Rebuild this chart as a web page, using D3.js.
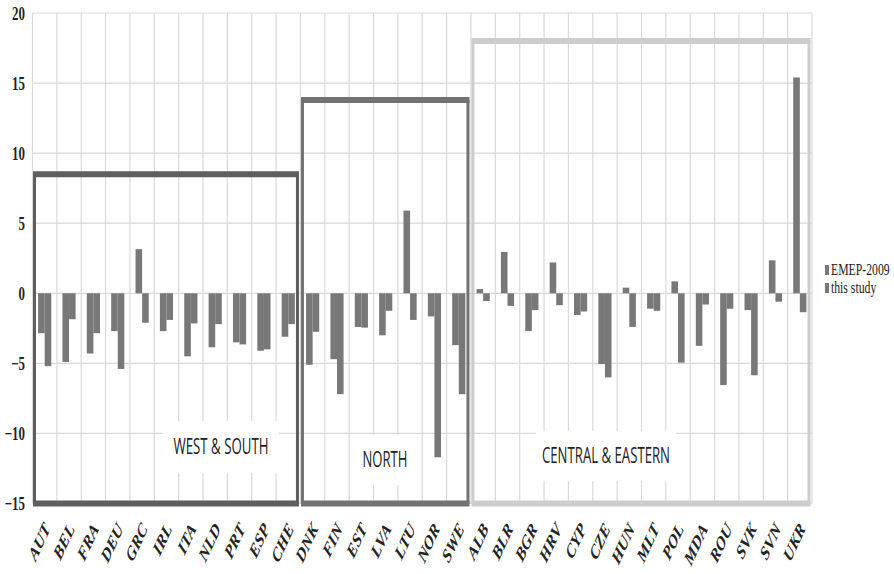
<!DOCTYPE html>
<html>
<head>
<meta charset="utf-8">
<script src="https://cdn.jsdelivr.net/npm/d3@7"></script>
<style>
  html, body { margin: 0; padding: 0; background: #fff; }
  svg { display: block; }
</style>
</head>
<body>
<svg id="chart" width="894" height="574"></svg>
<script>
// Countries in plotting order, grouped by region
const countries = ["AUT","BEL","FRA","DEU","GRC","IRL","ITA","NLD","PRT","ESP","CHE",
  "DNK","FIN","EST","LVA","LTU","NOR","SWE",
  "ALB","BLR","BGR","HRV","CYP","CZE","HUN","MLT","POL","MDA","ROU","SVK","SVN","UKR"];

// Series values
const emep2009 = [-2.85,-4.9,-4.3,-2.7,3.15,-2.7,-4.5,-3.85,-3.5,-4.1,-3.1,
  -5.1,-4.7,-2.4,-3.0,5.9,-1.65,-3.7,
  0.3,2.95,-2.7,2.2,-1.55,-5.05,0.4,-1.1,0.85,-3.75,-6.55,-1.2,2.35,15.4];
const thisStudy = [-5.2,-1.85,-2.85,-5.4,-2.1,-1.9,-2.15,-2.2,-3.65,-4.0,-2.2,
  -2.75,-7.2,-2.45,-1.25,-1.9,-11.7,-7.2,
  -0.55,-0.9,-1.2,-0.85,-1.3,-6.0,-2.4,-1.25,-4.95,-0.8,-1.1,-5.85,-0.6,-1.35];

const seriesNames = ["EMEP-2009", "this study"];

// Regional groupings: name, number of countries, height of the frame
const regionNames = ["WEST & SOUTH", "NORTH", "CENTRAL & EASTERN"];
const regionSizes = [11, 7, 14];
const regionTops = [8.5, 13.8, 18];

const yTicks = [-15, -10, -5, 0, 5, 10, 15, 20];

const svg = d3.select("#chart");
const plot = { left: 32.5, right: 812, top: 13, bottom: 503.5 };

const x = d3.scaleBand().domain(countries).range([plot.left, plot.right]).padding(0);
const x1 = d3.scaleBand().domain(seriesNames).range([0, x.bandwidth()])
  .paddingInner(0).paddingOuter(0.85);
const y = d3.scaleLinear().domain([-15, 20]).range([plot.bottom, plot.top]);

const barColor = "#787878";
const gridColor = "#d9d9d9";

// Gridlines
const grid = svg.append("g");
grid.selectAll("line.h").data(yTicks).join("line")
  .attr("x1", plot.left).attr("x2", plot.right)
  .attr("y1", d => y(d)).attr("y2", d => y(d))
  .attr("stroke", gridColor).attr("stroke-width", 1.2);
const bounds = countries.map(c => x(c)).concat([plot.right]);
grid.selectAll("line.v").data(bounds).join("line")
  .attr("x1", d => d).attr("x2", d => d)
  .attr("y1", plot.top).attr("y2", plot.bottom)
  .attr("stroke", gridColor).attr("stroke-width", 1.2);

// Region frames
let start = 0;
const regions = regionNames.map((name, i) => {
  const first = countries[start];
  const last = countries[start + regionSizes[i] - 1];
  start += regionSizes[i];
  return { name, x0: x(first), x1: x(last) + x.bandwidth(), top: regionTops[i] };
});
const frameColors = ["#5e5e5e", "#727272", "#cdcdcd"];
const frames = svg.append("g");

// White panels behind the region labels
const labelPanels = [
  { cx: 221, cy: 447, w: 116, h: 52, tw: 95, fs: 21 },
  { cx: 385, cy: 460, w: 58, h: 50, tw: 45, fs: 21 },
  { cx: 606, cy: 456, w: 140, h: 50, tw: 128, fs: 21 }
];
labelPanels.forEach(p => {
  frames.append("rect")
    .attr("x", p.cx - p.w / 2).attr("y", p.cy - p.h / 2)
    .attr("width", p.w).attr("height", p.h)
    .attr("fill", "#fff");
});

// Bars
const barData = [];
countries.forEach((c, i) => {
  barData.push({ c, s: seriesNames[0], v: emep2009[i] });
  barData.push({ c, s: seriesNames[1], v: thisStudy[i] });
});
svg.append("g").selectAll("rect").data(barData).join("rect")
  .attr("x", d => x(d.c) + x1(d.s))
  .attr("width", x1.bandwidth())
  .attr("y", d => y(Math.max(0, d.v)))
  .attr("height", d => Math.abs(y(d.v) - y(0)))
  .attr("fill", barColor);

regions.forEach((r, i) => {
  const l = r.x0 + 2, rr = r.x1 - 3;
  const col = frameColors[i];
  const g = frames.append("g");
  g.append("line").attr("x1", l).attr("x2", l).attr("y1", y(r.top)).attr("y2", y(-15))
    .attr("stroke", col).attr("stroke-width", 3);
  g.append("line").attr("x1", rr).attr("x2", rr).attr("y1", y(r.top)).attr("y2", y(-15))
    .attr("stroke", col).attr("stroke-width", 3);
  g.append("line").attr("x1", l - 1.5).attr("x2", rr + 1.5).attr("y1", y(r.top)).attr("y2", y(r.top))
    .attr("stroke", col).attr("stroke-width", 6);
  g.append("line").attr("x1", l - 1.5).attr("x2", rr + 1.5).attr("y1", y(-15)).attr("y2", y(-15))
    .attr("stroke", col).attr("stroke-width", 6);
});
frames.lower();
grid.lower();

// Region labels
regions.forEach((r, i) => {
  const p = labelPanels[i];
  svg.append("text")
    .attr("x", p.cx - p.tw / 2).attr("y", p.cy + 7)
    .attr("textLength", p.tw).attr("lengthAdjust", "spacingAndGlyphs")
    .attr("font-family", "'Open Sans', 'DejaVu Sans', sans-serif")
    .attr("font-size", p.fs).attr("fill", "#222")
    .text(r.name);
});

// Y axis labels
const yAxis = svg.append("g").attr("transform", "translate(25,0)")
  .call(d3.axisLeft(y).tickValues(yTicks).tickSize(0).tickPadding(0).tickFormat(d3.format("d")));
yAxis.select(".domain").remove();
yAxis.selectAll("text")
  .attr("x", 0)
  .attr("font-family", "'Liberation Serif', 'Times New Roman', serif")
  .attr("font-weight", "bold")
  .attr("font-size", 19)
  .attr("fill", "#222")
  .attr("transform", "scale(0.68,1)")
  .attr("dy", "0.32em");

// X axis labels
svg.append("g").selectAll("text").data(countries).join("text")
  .attr("transform", d => `translate(${x(d) + x.bandwidth() / 2 + 6},529) scale(0.68,1) rotate(-56)`)
  .attr("text-anchor", "end")
  .attr("font-family", "'Liberation Serif', 'Times New Roman', serif")
  .attr("font-weight", "bold").attr("font-style", "italic")
  .attr("font-size", 20).attr("fill", "#222")
  .text(d => d);

// Legend
const legend = svg.append("g");
const legendItems = [{ t: seriesNames[0], yb: 275 }, { t: seriesNames[1], yb: 293 }];
legendItems.forEach(d => {
  legend.append("rect").attr("x", 825).attr("y", d.yb - 10).attr("width", 4).attr("height", 10)
    .attr("fill", barColor);
  legend.append("text")
    .attr("transform", `translate(831,${d.yb}) scale(0.69,1)`)
    .attr("font-family", "'Liberation Serif', 'Times New Roman', serif")
    .attr("font-size", 17).attr("fill", "#222")
    .text(d.t);
});
</script>
</body>
</html>
